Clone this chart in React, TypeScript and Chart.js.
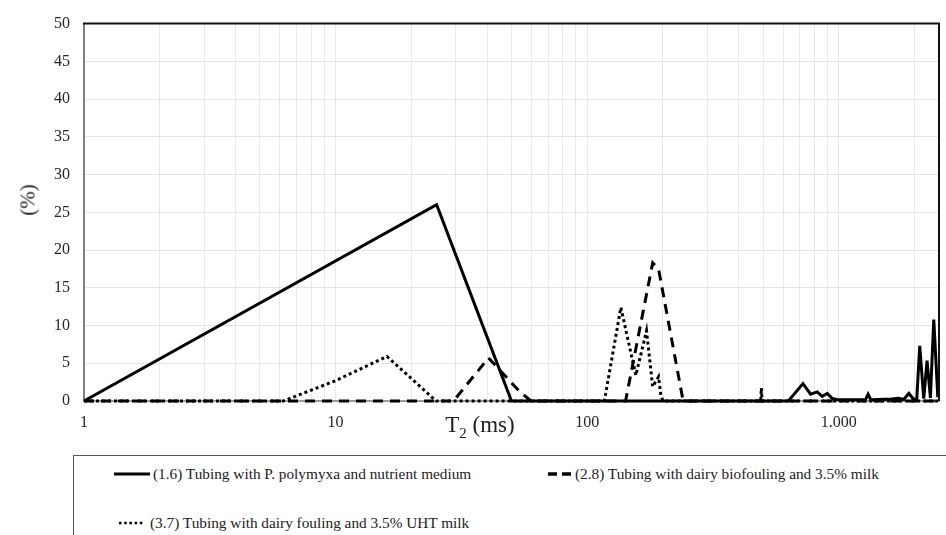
import React, { useEffect, useRef } from 'react';
import { Chart, registerables } from 'chart.js';

Chart.register(...registerables);

// T2 relaxation distributions (ms vs %)
const solidT = [1, 25.2, 50, 630, 720, 772, 820, 859, 899, 940, 1000, 1276, 1307, 1340, 1620, 1730, 1810, 1897, 1986, 2040, 2096, 2174, 2241, 2311, 2383, 2427, 2472];
const solidPct = [0, 26, 0, 0, 2.3, 0.9, 1.2, 0.6, 1.0, 0.35, 0.15, 0.15, 0.9, 0.15, 0.25, 0.35, 0.2, 1.0, 0.2, 0.3, 7.3, 0.3, 5.35, 0.4, 10.8, 5.8, 0.5];

const dashedT = [1, 29.4, 40.5, 53.7, 59.8, 142, 182, 192, 240.5, 2500];
const dashedPct = [0, 0, 5.7, 1.3, 0, 0, 18.3, 17.5, 0, 0];

const dottedT = [1, 6.2, 10, 16.0, 25.1, 117, 136, 156, 172, 182, 192, 196, 200, 489, 492, 495, 2500];
const dottedPct = [0, 0, 2.7, 5.9, 0, 0, 12.4, 3.4, 9.3, 1.9, 3.2, 0.8, 0, 0, 1.7, 0, 0];

const seriesLabels = [
  '(1.6) Tubing with P. polymyxa and nutrient medium',
  '(2.8) Tubing with dairy biofouling and 3.5% milk',
  '(3.7) Tubing with dairy fouling and 3.5% UHT milk',
];

const xMin = 1;
const xMax = 2500;
const xDecades = [1, 10, 100, 1000];
const xTickLabels = ['1', '10', '100', '1.000'];
const yMin = 0;
const yMax = 50;
const yStep = 5;

const FONT = "'Liberation Serif', 'Times New Roman', serif";

const toPoints = (xs: number[], ys: number[]) => xs.map((x, i) => ({ x, y: ys[i] }));

// gridline positions: 1..9 within every decade
const gridValues: number[] = [];
xDecades.forEach((d) => {
  for (let m = 1; m <= 9; m++) {
    const v = d * m;
    if (v <= xMax) gridValues.push(v);
  }
});

// black frame along the top and right edges of the plot area
const framePlugin = {
  id: 'frame',
  afterDatasetsDraw(chart: any) {
    const { ctx, chartArea } = chart;
    const { left, top, right, bottom } = chartArea;
    ctx.save();
    ctx.strokeStyle = '#111';
    ctx.lineWidth = 2;
    ctx.beginPath();
    ctx.moveTo(left - 1, top);
    ctx.lineTo(right, top);
    ctx.lineTo(right, bottom);
    ctx.stroke();
    ctx.restore();
  },
};

// legend swatches: solid, dashed, dotted
const legendStyles = [
  { dash: '', width: 3 },
  { dash: '9 5', width: 3.5 },
  { dash: '2.5 2.7', width: 2.5 },
];

const legendPos = [
  { left: 114, len: 36, top: 474, text: 153 },
  { left: 548, len: 23, top: 474, text: 575 },
  { left: 119, len: 26, top: 523, text: 150 },
];

export default function App() {
  const canvasRef = useRef<HTMLCanvasElement | null>(null);

  useEffect(() => {
    if (!canvasRef.current) return;
    const base = { borderColor: '#000', borderWidth: 3, pointRadius: 0, tension: 0, clip: false as any };
    const chart = new Chart(canvasRef.current, {
      type: 'line',
      data: {
        // first dataset is painted last, so the solid curve covers the zero baseline
        datasets: [
          {
            ...base,
            label: seriesLabels[0],
            data: toPoints(solidT, solidPct),
          },
          {
            ...base,
            label: seriesLabels[1],
            data: toPoints(dashedT, dashedPct),
            borderDash: [10, 7],
          },
          {
            ...base,
            label: seriesLabels[2],
            data: toPoints(dottedT, dottedPct),
            borderDash: [3, 3],
          },
        ],
      },
      options: {
        responsive: false,
        animation: false,
        layout: { padding: { left: 0, top: 18, right: 7, bottom: 0 } },
        plugins: { legend: { display: false }, tooltip: { enabled: false } },
        scales: {
          x: {
            type: 'logarithmic',
            min: xMin,
            max: xMax,
            afterBuildTicks: (scale: any) => {
              scale.ticks = gridValues.map((v) => ({ value: v }));
            },
            afterFit: (scale: any) => {
              scale.height = 49;
            },
            grid: { color: '#e8e8e8', lineWidth: 1, drawTicks: false },
            border: { color: '#9a9a9a', width: 2 },
            ticks: {
              autoSkip: false,
              maxRotation: 0,
              padding: 12,
              color: '#262626',
              font: { family: FONT, size: 16 },
              callback: (value: any) => {
                const idx = xDecades.indexOf(Number(value));
                return idx >= 0 ? xTickLabels[idx] : '';
              },
            },
          },
          y: {
            min: yMin,
            max: yMax,
            afterFit: (scale: any) => {
              scale.width = 84;
            },
            grid: { color: '#e4e4e4', lineWidth: 1, drawTicks: false },
            border: { color: '#808080', width: 2 },
            ticks: {
              stepSize: yStep,
              padding: 14,
              color: '#262626',
              font: { family: FONT, size: 16 },
            },
          },
        },
      },
      plugins: [framePlugin],
    } as any);
    return () => chart.destroy();
  }, []);

  return (
    <div
      style={{
        position: 'fixed',
        left: 0,
        top: 0,
        width: 946,
        height: 535,
        background: '#fff',
        overflow: 'hidden',
        fontFamily: FONT,
        color: '#222',
      }}
    >
      <canvas ref={canvasRef} width={946} height={450} style={{ position: 'absolute', left: 0, top: 0 }} />
      <div
        style={{
          position: 'absolute',
          left: 28,
          top: 200,
          transform: 'translate(-50%, -50%) rotate(-90deg)',
          fontSize: 21,
          whiteSpace: 'nowrap',
        }}
      >
        (%)
      </div>
      <div
        style={{
          position: 'absolute',
          left: 480,
          top: 429,
          transform: 'translate(-50%, -50%)',
          fontSize: 23,
          whiteSpace: 'nowrap',
          lineHeight: '26px',
        }}
      >
        T<sub style={{ fontSize: 15, verticalAlign: '-6px' }}>2</sub> (ms)
      </div>
      <div
        style={{
          position: 'absolute',
          left: 73,
          top: 455,
          width: 900,
          height: 120,
          border: '1px solid #555',
        }}
      />
      {seriesLabels.map((label, i) => (
        <React.Fragment key={label}>
          <svg
            width={legendPos[i].len}
            height={6}
            style={{ position: 'absolute', left: legendPos[i].left, top: legendPos[i].top - 3 }}
          >
            <line
              x1={0}
              y1={3}
              x2={legendPos[i].len}
              y2={3}
              stroke="#000"
              strokeWidth={legendStyles[i].width}
              strokeDasharray={legendStyles[i].dash || undefined}
            />
          </svg>
          <div
            style={{
              position: 'absolute',
              left: legendPos[i].text,
              top: legendPos[i].top,
              transform: 'translateY(-50%)',
              fontSize: 15.3,
              whiteSpace: 'nowrap',
            }}
          >
            {label}
          </div>
        </React.Fragment>
      ))}
    </div>
  );
}
